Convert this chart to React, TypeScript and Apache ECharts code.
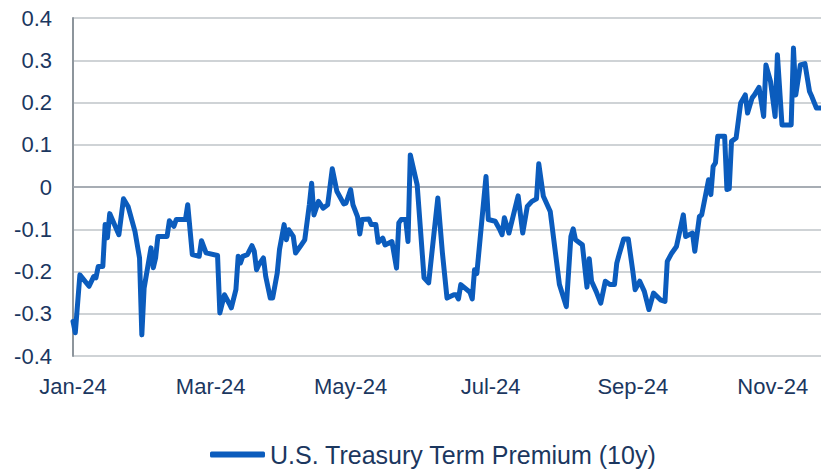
import React, { useEffect, useRef } from "react";
import * as echarts from "echarts";

// Days since 2024-01-01
const days = [
  0, 1, 3, 7, 9, 10, 11, 13, 14, 15,
  16, 20, 22, 24, 27, 29, 30, 31, 34, 35,
  36, 37, 41, 42, 44, 45, 49, 50, 52, 55,
  56, 58, 63, 64, 66, 68, 69, 71, 72, 73,
  74, 76, 78, 79, 80, 81, 83, 84, 86, 87,
  89, 90, 92, 93, 94, 96, 97, 99, 101, 103,
  104, 105, 107, 109, 111, 113, 115, 118, 119, 121,
  122, 124, 125, 126, 129, 130, 132, 133, 135, 136,
  139, 141, 142, 143, 145, 146, 147, 150, 153, 155,
  159, 161, 163, 166, 167, 168, 169, 171, 173, 174,
  175, 176, 180, 181, 184, 186, 187, 188, 190, 194,
  196, 198, 200, 202, 203, 205, 208, 212, 215, 217,
  218, 219, 222, 224, 225, 226, 228, 230, 232, 234,
  236, 237, 238, 240, 242, 244, 245, 247, 249, 251,
  253, 256, 258, 259, 261, 263, 266, 267, 270, 271,
  273, 274, 277, 278, 279, 280, 281, 284, 285, 286,
  287, 289, 291, 293, 294, 296, 297, 299, 301, 302,
  304, 306, 307, 309, 313, 314, 315, 317, 319, 321,
  322, 324, 326,
];

const premium = [
  -0.318, -0.345, -0.208, -0.235, -0.212, -0.215, -0.188, -0.188, -0.089, -0.12,
  -0.063, -0.113, -0.028, -0.046, -0.105, -0.168, -0.35, -0.239, -0.144, -0.191,
  -0.168, -0.117, -0.117, -0.08, -0.093, -0.077, -0.077, -0.042, -0.16, -0.164,
  -0.127, -0.156, -0.162, -0.298, -0.255, -0.275, -0.286, -0.243, -0.164, -0.18,
  -0.164, -0.16, -0.139, -0.152, -0.196, -0.184, -0.168, -0.212, -0.263, -0.263,
  -0.204, -0.148, -0.089, -0.125, -0.101, -0.117, -0.156, -0.141, -0.125, -0.042,
  0.009, -0.066, -0.034, -0.05, -0.042, 0.043, -0.01, -0.04, -0.038, -0.006,
  -0.042, -0.07, -0.111, -0.077, -0.076, -0.089, -0.089, -0.131, -0.121, -0.137,
  -0.129, -0.192, -0.085, -0.077, -0.077, -0.129, 0.076, 0.005, -0.215, -0.227,
  -0.026, -0.156, -0.263, -0.255, -0.255, -0.265, -0.231, -0.24, -0.249, -0.265,
  -0.196, -0.205, 0.025, -0.077, -0.081, -0.101, -0.113, -0.073, -0.109, -0.021,
  -0.109, -0.046, -0.034, -0.028, 0.055, -0.022, -0.058, -0.231, -0.283, -0.117,
  -0.099, -0.125, -0.137, -0.237, -0.17, -0.223, -0.247, -0.275, -0.223, -0.231,
  -0.231, -0.18, -0.16, -0.123, -0.123, -0.2, -0.243, -0.223, -0.247, -0.29,
  -0.251, -0.267, -0.271, -0.176, -0.156, -0.141, -0.066, -0.117, -0.109, -0.152,
  -0.07, -0.066, 0.017, -0.018, 0.049, 0.057, 0.12, 0.12, -0.006, -0.004,
  0.108, 0.116, 0.199, 0.218, 0.175, 0.211, 0.218, 0.236, 0.167, 0.289,
  0.25, 0.167, 0.313, 0.147, 0.147, 0.329, 0.218, 0.289, 0.292, 0.226,
  0.214, 0.187, 0.187,
];

const monthTickDays = [0, 60, 121, 182, 244, 305];
const monthTickLabels = ["Jan-24", "Mar-24", "May-24", "Jul-24", "Sep-24", "Nov-24"];
const seriesName = "U.S. Treasury Term Premium (10y)";

const TEXT_COLOR = "#1b375f";
const LINE_COLOR = "#0b5cbd";
const FONT = "'Liberation Sans', Arial, sans-serif";

export default function App() {
  const ref = useRef<HTMLDivElement>(null);

  useEffect(() => {
    if (!ref.current) return;
    const chart = echarts.init(ref.current, null, { renderer: "svg" });
    chart.setOption({
      animation: false,
      backgroundColor: "#ffffff",
      textStyle: { fontFamily: FONT },
      grid: { left: 73, right: 0, top: 18, bottom: 113, containLabel: false },
      xAxis: {
        type: "value",
        min: 0,
        max: 326,
        axisLine: { show: false },
        axisTick: { show: false },
        splitLine: { show: false },
        axisLabel: {
          customValues: monthTickDays,
          formatter: (v: number) => {
            const i = monthTickDays.indexOf(v);
            return i >= 0 ? monthTickLabels[i] : "";
          },
          margin: 19,
          fontSize: 22,
          color: TEXT_COLOR,
          fontFamily: FONT,
        },
      },
      yAxis: {
        type: "value",
        min: -0.4,
        max: 0.4,
        interval: 0.1,
        axisLine: { show: true, lineStyle: { color: "#8d959c", width: 2 } },
        axisTick: { show: false },
        splitLine: { show: true, lineStyle: { color: "#bfc4c9", width: 1.5 } },
        axisLabel: {
          formatter: (v: number) => String(Math.round(v * 10) / 10),
          margin: 21,
          fontSize: 22,
          color: TEXT_COLOR,
          fontFamily: FONT,
        },
      },
      legend: {
        show: true,
        left: 210,
        top: 442,
        padding: 0,
        icon: "roundRect",
        itemWidth: 55,
        itemHeight: 6,
        itemGap: 10,
        textStyle: { fontSize: 25, color: TEXT_COLOR, fontFamily: FONT },
        data: [seriesName],
      },
      series: [
        {
          name: seriesName,
          type: "line",
          data: days.map((d, i) => [d, premium[i]]),
          showSymbol: false,
          symbol: "none",
          lineStyle: { color: LINE_COLOR, width: 5, join: "round", cap: "round" },
          itemStyle: { color: LINE_COLOR },
          markLine: {
            silent: true,
            symbol: "none",
            label: { show: false },
            lineStyle: { color: "#9aa1a8", width: 1.5, type: "solid" },
            data: [{ yAxis: 0 }],
            z: 1,
          },
          z: 3,
        },
      ],
    });
    return () => chart.dispose();
  }, []);

  return (
    <div
      ref={ref}
      style={{ position: "absolute", left: 0, top: 0, width: 821, height: 469 }}
    />
  );
}
